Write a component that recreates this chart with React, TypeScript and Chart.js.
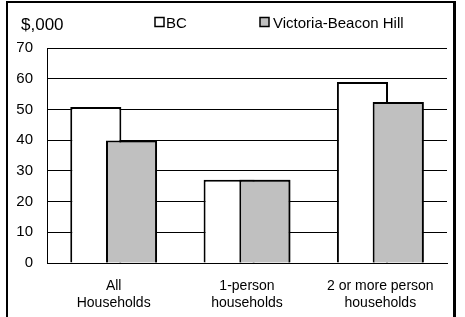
import React, { useEffect, useRef } from 'react';
import { Chart, registerables } from 'chart.js';

Chart.register(...registerables);

const categories: string[][] = [
  ['All', 'Households'],
  ['1-person', 'households'],
  ['2 or more person', 'households'],
];
const seriesLabels = ['BC', 'Victoria-Beacon Hill'];
const bcValues = [50.8, 27.1, 58.9];
const victoriaValues = [39.9, 27.1, 52.4];
const yTicks = [0, 10, 20, 30, 40, 50, 60, 70];
const unitLabel = '$,000';

const FONT = '"Liberation Sans", Arial, Helvetica, sans-serif';

const overlayPlugin = {
  id: 'overlay',
  afterDatasetsDraw(chart: any) {
    // draw the second series on top of the first (overlapping bars)
    const meta = chart.getDatasetMeta(1);
    meta.data.forEach((el: any) => el.draw(chart.ctx));
  },
  afterDraw(chart: any) {
    const ctx = chart.ctx as CanvasRenderingContext2D;
    ctx.save();
    ctx.fillStyle = '#000';
    ctx.textBaseline = 'alphabetic';
    ctx.textAlign = 'left';
    ctx.font = `17px ${FONT}`;
    ctx.fillText(unitLabel, 21, 30);
    ctx.font = `15px ${FONT}`;
    const boxX = [155, 260];
    const textX = [166, 273];
    chart.data.datasets.forEach((ds: any, i: number) => {
      const bx = boxX[i];
      ctx.fillStyle = ds.backgroundColor;
      ctx.fillRect(bx, 17.5, 9, 9);
      ctx.lineWidth = 1.5;
      ctx.strokeStyle = '#000';
      ctx.strokeRect(bx, 17.5, 9, 9);
      ctx.fillStyle = '#000';
      ctx.fillText(ds.label, textX[i], 27.5);
    });
    ctx.restore();
  },
};

export default function App() {
  const ref = useRef<HTMLCanvasElement | null>(null);

  useEffect(() => {
    if (!ref.current) return;
    const chart = new Chart(ref.current, {
      type: 'bar',
      data: {
        labels: categories,
        datasets: [
          {
            label: seriesLabels[0],
            data: bcValues,
            backgroundColor: '#ffffff',
            borderColor: '#000000',
            borderWidth: 2,
            categoryPercentage: 0.536,
            barPercentage: 1.43,
          },
          {
            label: seriesLabels[1],
            data: victoriaValues,
            backgroundColor: '#c0c0c0',
            borderColor: '#000000',
            borderWidth: 2,
            categoryPercentage: 0.536,
            barPercentage: 1.43,
          },
        ],
      },
      options: {
        animation: false,
        responsive: false,
        maintainAspectRatio: false,
        layout: { padding: { left: 0, right: 18, top: 48, bottom: 0 } },
        plugins: {
          legend: { display: false },
          tooltip: { enabled: false },
          title: { display: false },
        },
        scales: {
          x: {
            grid: { display: false, drawTicks: false },
            border: { display: true, color: '#000', width: 1 },
            ticks: {
              color: '#000',
              padding: 15,
              maxRotation: 0,
              autoSkip: false,
              font: { family: FONT, size: 14, lineHeight: 17 / 14 },
            },
            afterFit: (scale: any) => {
              scale.height = 54;
            },
          },
          y: {
            min: yTicks[0],
            max: yTicks[yTicks.length - 1],
            grid: { color: '#000', lineWidth: 1, drawTicks: false },
            border: { display: true, color: '#000', width: 1 },
            ticks: {
              stepSize: yTicks[1] - yTicks[0],
              color: '#000',
              padding: 14,
              font: { family: FONT, size: 15 },
            },
            afterFit: (scale: any) => {
              scale.width = 47;
            },
          },
        },
      },
      plugins: [overlayPlugin],
    });
    return () => chart.destroy();
  }, []);

  return (
    <div
      style={{
        position: 'absolute',
        left: 0,
        top: 0,
        width: 465,
        height: 317,
        overflow: 'hidden',
        background: '#fff',
      }}
    >
      <div
        style={{
          position: 'absolute',
          left: 6,
          top: 1,
          width: 450,
          height: 340,
          boxSizing: 'border-box',
          borderTop: '2px solid #000',
          borderLeft: '2px solid #000',
          borderRight: '3px solid #000',
        }}
      />
      <canvas
        ref={ref}
        width={465}
        height={317}
        style={{ position: 'absolute', left: 0, top: 0, width: 465, height: 317 }}
      />
    </div>
  );
}
